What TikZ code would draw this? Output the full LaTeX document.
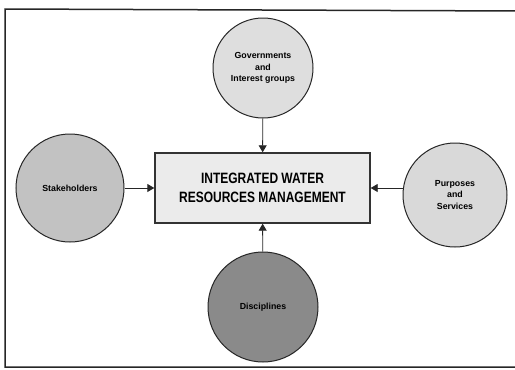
\documentclass[tikz,border=0pt]{standalone}
\usepackage{fontspec}
\setmainfont{Liberation Sans}
\usetikzlibrary{arrows.meta}
\begin{document}
\begin{tikzpicture}[x=1pt,y=-1pt,
  circ/.style={circle,draw=black!85,line width=1pt,inner sep=0pt,
    font=\bfseries\fontsize{8.8}{11.5}\selectfont,align=center},
  mainbox/.style={draw=black!80,line width=1.4pt,fill=black!8,minimum width=215pt,
    minimum height=70pt,inner sep=0pt,align=center,
    font=\bfseries\fontsize{15}{18.5}\selectfont},
  conn/.style={line width=0.9pt,draw=black!85,-{Triangle[length=7pt,width=8pt]}}]
\useasboundingbox (0,0) rectangle (515,370);
\draw[line width=1.5pt,black!85] (520,11) -- (5,9) -- (5,367) -- (520,367);
\node[mainbox] (iwrm) at (262.5,188) {\addfontfeatures{FakeStretch=0.8}INTEGRATED WATER\\\addfontfeatures{FakeStretch=0.8}RESOURCES MANAGEMENT};
\node[circ,fill=black!13,minimum size=100pt] (gov) at (263,68) {Governments\\and\\Interest groups};
\node[circ,fill=black!24,minimum size=108pt] (stake) at (70,188) {Stakeholders};
\node[circ,fill=black!15,minimum size=104pt] (purp) at (455,195) {Purposes\\and\\Services};
\node[circ,fill=black!46,minimum size=110pt] (disc) at (263,307) {Disciplines};
\draw[conn] (gov) -- (iwrm);
\draw[conn] (stake.east) -- (iwrm.west);
\draw[conn] (purp.west |- iwrm.east) -- (iwrm.east);
\draw[conn] (disc) -- (iwrm);
\end{tikzpicture}
\end{document}
